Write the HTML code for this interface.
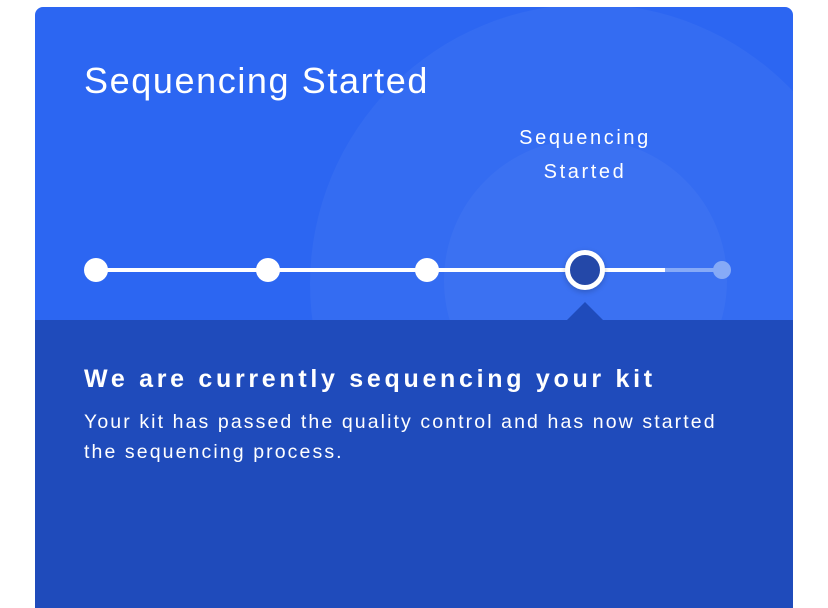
<!DOCTYPE html>
<html><head><style>
body{margin:0;width:828px;height:608px;background:#fff;overflow:hidden;font-family:"Liberation Sans",sans-serif}
.card{position:absolute;left:35px;top:7px;width:758px;height:601px;border-radius:8px 8px 0 0;overflow:hidden;background:#2c66f2}
.c{position:absolute;border-radius:50%}
.bot{position:absolute;left:0;top:313px;width:758px;height:300px;background:#1f4bbb}
.t{position:absolute;color:#fff;white-space:nowrap}
</style></head><body>
<div class="card">
<div class="c" style="left:275px;top:-3px;width:560px;height:560px;background:rgba(255,255,255,0.04)"></div>
<div class="c" style="left:409px;top:132px;width:283px;height:283px;background:rgba(255,255,255,0.04)"></div>
<div class="bot"></div>
<div style="position:absolute;left:532px;top:295px;width:0;height:0;border-left:18px solid transparent;border-right:18px solid transparent;border-bottom:18px solid #1f4bbb"></div>
<div class="t" style="left:49px;top:53px;font-size:36px;letter-spacing:1.6px">Sequencing Started</div>
<div class="t" style="left:450px;top:114px;width:200px;text-align:center;font-size:20px;letter-spacing:2.6px;line-height:34px">Sequencing<br>Started</div>
<div style="position:absolute;left:61px;top:261px;width:569px;height:4px;background:#fff"></div>
<div style="position:absolute;left:630px;top:261px;width:57px;height:4px;background:#86aaf7"></div>
<div class="c" style="left:49px;top:251px;width:24px;height:24px;background:#fff"></div>
<div class="c" style="left:221px;top:251px;width:24px;height:24px;background:#fff"></div>
<div class="c" style="left:380px;top:251px;width:24px;height:24px;background:#fff"></div>
<div class="c" style="left:678px;top:254px;width:18px;height:18px;background:#86aaf7"></div>
<div class="c" style="left:530px;top:243px;width:30px;height:30px;border:5px solid #fff;background:#2448a8;box-shadow:0 2px 6px rgba(0,0,0,0.2)"></div>
<div class="t" style="left:49px;top:358px;font-size:25px;font-weight:bold;letter-spacing:3.7px">We are currently sequencing your kit</div>
<div class="t" style="left:49px;top:400px;font-size:19.5px;line-height:30px;letter-spacing:2.1px">Your kit has passed the quality control and has now started<br>the sequencing process.</div>
</div>
</body></html>
